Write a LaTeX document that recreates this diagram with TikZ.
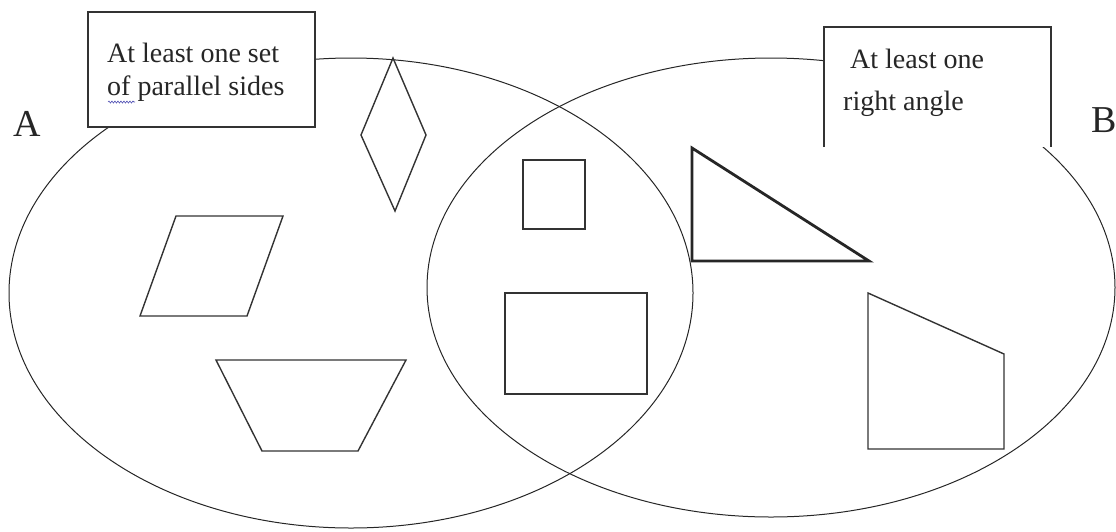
\documentclass[tikz,border=0pt]{standalone}
\usepackage{fontspec}
\setmainfont{Liberation Serif}
\usetikzlibrary{decorations.pathmorphing}
\begin{document}
\begin{tikzpicture}[x=1pt,y=-1pt,
  setline/.style={draw=black!85,line width=1pt},
  shapeline/.style={draw=black!80,line width=1.4pt,line join=miter},
  thickshape/.style={draw=black!85,line width=2.8pt,line join=miter},
  labelbox/.style={fill=white,draw=black!80,line width=1.4pt},
  boxtext/.style={anchor=base west,inner sep=0pt,font=\fontsize{28}{33}\selectfont,text=black!85},
  setname/.style={anchor=base west,inner sep=0pt,font=\fontsize{38}{44}\selectfont,text=black!85}]
\useasboundingbox (0,0) rectangle (1116,531);
% sets
\draw[setline] (351,293) ellipse [x radius=342pt, y radius=235pt];
\draw[setline] (771,287.5) ellipse [x radius=344pt, y radius=229.5pt];
% label boxes
\draw[labelbox] (88,12) rectangle (315,127);
\fill[white] (824,27) rectangle (1051,147);
\draw[draw=black!80,line width=1.4pt] (824,147) -- (824,27) -- (1051,27) -- (1051,147);
\node[boxtext] (t1a) at (107,62) {At least one set};
\node[boxtext] (t1b) at (107,95) {of parallel sides};
\draw[decorate,decoration={snake,amplitude=1pt,segment length=3pt},draw=blue!40!gray,line width=0.6pt] (108,102) -- (135,102);
\node[boxtext] (t2a) at (850,68) {At least one};
\node[boxtext] (t2b) at (843,110) {right angle};
% set names
\node[setname] (la) at (13,136) {A};
\node[setname] (lb) at (1091,132) {B};
% shapes in A only
\draw[shapeline] (393,58) -- (426,135) -- (395,211) -- (361,135) -- cycle;
\draw[shapeline] (176,216) -- (283,216) -- (247,316) -- (140,316) -- cycle;
\draw[shapeline] (216,360) -- (406,360) -- (358,451) -- (262,451) -- cycle;
% shapes in A and B
\draw[shapeline] (523,160) rectangle (585,229);
\draw[shapeline] (505,293) rectangle (647,394);
% shapes in B only
\draw[thickshape] (692,148) -- (692,261) -- (869,261) -- cycle;
\draw[shapeline] (868,293) -- (1004,354) -- (1004,449) -- (868,449) -- cycle;
\end{tikzpicture}
\end{document}
